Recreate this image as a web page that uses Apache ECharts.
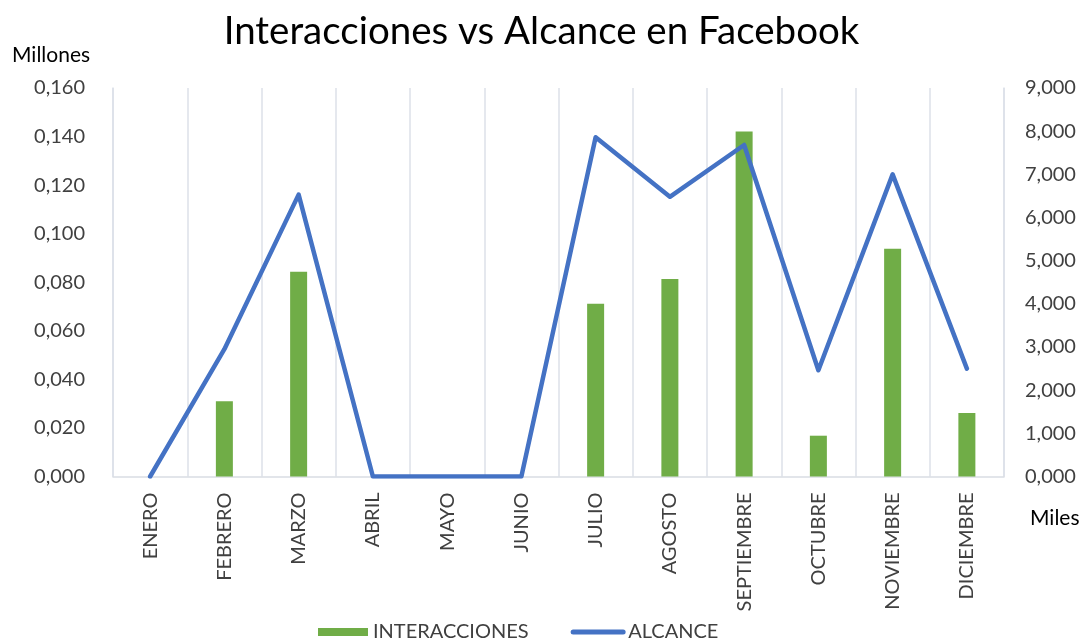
<!DOCTYPE html>
<html>
<head>
<meta charset="utf-8">
<script src="https://cdn.jsdelivr.net/npm/echarts@6/dist/echarts.min.js"></script>
<style>
html,body{margin:0;padding:0;background:#fff;}
#chart{width:1083px;height:643px;}
</style>
</head>
<body>
<div id="chart"></div>
<script>
const months = ['ENERO','FEBRERO','MARZO','ABRIL','MAYO','JUNIO','JULIO','AGOSTO','SEPTIEMBRE','OCTUBRE','NOVIEMBRE','DICIEMBRE'];
const interacciones = [0, 0.031, 0.0843, 0, 0, 0, 0.0711, 0.0813, 0.1421, 0.0168, 0.0938, 0.0262];
const alcance = [0, 2950, 6530, 0, 0, 0, 7860, 6480, 7680, 2460, 7000, 2500];
const leftTicks = {min: 0, max: 0.16, interval: 0.02};
const rightTicks = {min: 0, max: 9000, interval: 1000};

const FONT = 'Lato, "Open Sans", sans-serif';
const chart = echarts.init(document.getElementById('chart'));
chart.setOption({
  animation: false,
  title: {
    text: 'Interacciones vs Alcance en Facebook',
    left: 'center', top: 7,
    textStyle: {fontFamily: FONT, fontSize: 38.5, fontWeight: 'normal', color: '#000'}
  },
  graphic: [
    {type: 'text', left: 12, top: 45, style: {text: 'Millones', font: '21px ' + FONT, fill: '#000'}},
    {type: 'text', left: 1030, top: 508, style: {text: 'Miles', font: '21px ' + FONT, fill: '#000'}}
  ],
  grid: {left: 113, right: 79, top: 88, bottom: 166.5, containLabel: false},
  legend: {
    bottom: -4, left: 313,
    itemWidth: 50, itemHeight: 8, itemGap: 42,
    textStyle: {fontFamily: FONT, fontSize: 20, color: '#404040'},
    data: [
      {name: 'INTERACCIONES', icon: 'rect'},
      {name: 'ALCANCE', itemStyle: {opacity: 0}, lineStyle: {width: 5, cap: 'round', color: '#4472C4'}}
    ]
  },
  xAxis: {
    type: 'category', data: months, boundaryGap: true,
    axisTick: {show: false},
    axisLine: {lineStyle: {color: '#d9dde3', width: 1.5}},
    splitLine: {show: true, lineStyle: {color: '#dde1e8', width: 1.5}},
    axisLabel: {rotate: 90, margin: 16, fontFamily: FONT, fontSize: 20, color: '#404040', interval: 0}
  },
  yAxis: [
    {
      type: 'value', min: leftTicks.min, max: leftTicks.max, interval: leftTicks.interval,
      splitLine: {show: false},
      axisLine: {show: true, lineStyle: {color: '#dde1e8', width: 1.5}},
      axisTick: {show: false},
      axisLabel: {margin: 28, fontFamily: FONT, fontSize: 20, color: '#404040',
        formatter: v => v.toFixed(3).replace('.', ',')}
    },
    {
      type: 'value', min: rightTicks.min, max: rightTicks.max, interval: rightTicks.interval,
      splitLine: {show: false},
      axisLine: {show: true, lineStyle: {color: '#dde1e8', width: 1.5}},
      axisTick: {show: false},
      axisLabel: {margin: 21, fontFamily: FONT, fontSize: 20, color: '#404040',
        formatter: v => (v / 1000).toFixed(3).replace('.', ',')}
    }
  ],
  series: [
    {
      name: 'INTERACCIONES', type: 'bar', yAxisIndex: 0, data: interacciones,
      barWidth: 17, itemStyle: {color: '#70AD47'}
    },
    {
      name: 'ALCANCE', type: 'line', yAxisIndex: 1, data: alcance,
      symbol: 'none', lineStyle: {color: '#4472C4', width: 4.5, join: 'round', cap: 'round'},
      itemStyle: {color: '#4472C4'}
    }
  ]
});
</script>
</body>
</html>
